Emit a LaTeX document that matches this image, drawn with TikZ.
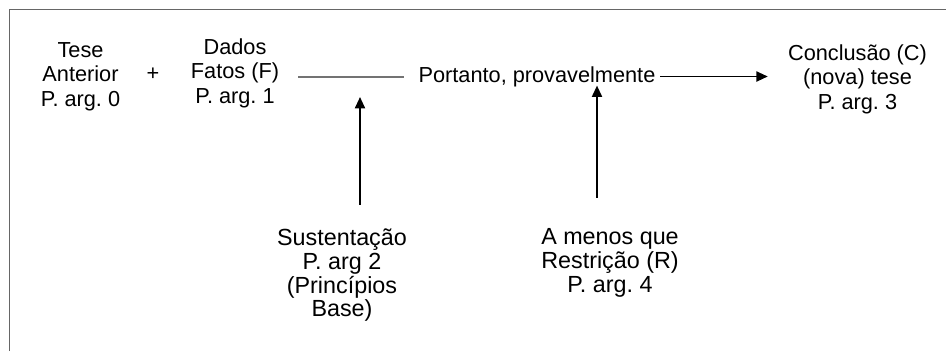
\documentclass[tikz,border=0pt]{standalone}
\usepackage{fontspec}
\setmainfont{Liberation Sans}
\frenchspacing
\usetikzlibrary{arrows.meta}
\tikzset{
  texto/.style={align=center, inner sep=0pt, font=\fontsize{16.3}{18.4}\selectfont},
  textobaixo/.style={align=center, inner sep=0pt, font=\fontsize{17.5}{17.8}\selectfont},
  seta/.style={draw=black, line width=1.4pt, -{Triangle[length=8.5pt,width=7.5pt]}},
  traco/.style={draw=black!55, line width=1.5pt},
  moldura/.style={draw=black!60, line width=1.3pt}
}
\begin{document}
\begin{tikzpicture}[x=0.75pt,y=-0.75pt]
\useasboundingbox (0,0) rectangle (946,351);
\draw[moldura] (9.5,351) -- (9.5,9.5) -- (946,9.5);
\node[texto] (tese) at (80.5,76.7) {Tese\\Anterior\\P. arg. 0};
\node[texto] (mais) at (153,74) {+};
\node[texto] (dados) at (235,73) {Dados\\Fatos (F)\\P. arg. 1};
\node[texto] (portanto) at (537,76.5) {Portanto, provavelmente};
\node[texto] (conclusao) at (857.5,79) {Conclusão (C)\\(nova) tese\\P. arg. 3};
\node[textobaixo] (sustentacao) at (342,275.2) {Sustentação\\P. arg 2\\(Princípios\\Base)};
\node[textobaixo] (restricao) at (610,262.7) {A menos que\\Restrição (R)\\P. arg. 4};
\coordinate (ponta1) at (360,97);
\coordinate (ponta2) at ([xshift=45pt,yshift=1pt]portanto.south);
\draw[traco, shorten <=14pt, shorten >=11pt] (dados.east |- portanto.west) -- (portanto.west);
\draw[seta, shorten <=3.5pt, shorten >=15pt] (portanto.east) -- (portanto.east -| conclusao.west);
\draw[seta, shorten <=18pt] (sustentacao.north -| ponta1) -- (ponta1);
\draw[seta, shorten <=22.7pt] (restricao.north -| ponta2) -- (ponta2);
\end{tikzpicture}
\end{document}
